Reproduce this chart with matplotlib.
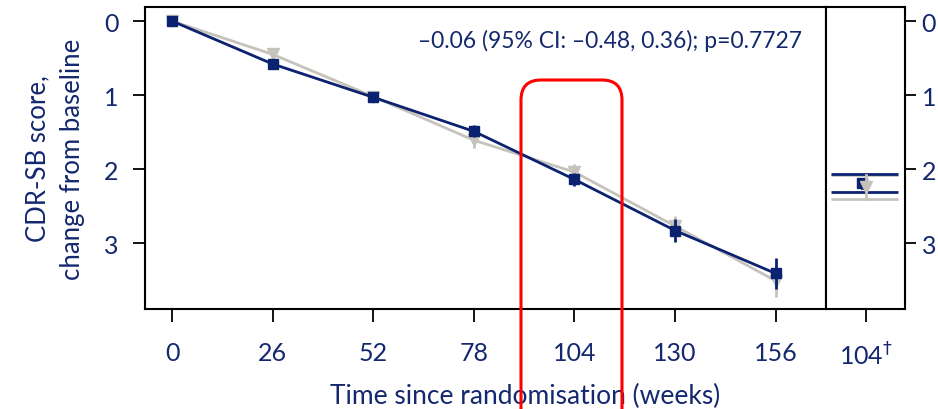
import numpy as np
import matplotlib
matplotlib.use('Agg')
import matplotlib.pyplot as plt
from matplotlib.patches import FancyBboxPatch

plt.rcParams['font.family'] = ['Lato', 'DejaVu Sans']

# data
weeks = [0, 26, 52, 78, 104, 130, 156]
navy_mean = [0.0, 0.58, 1.03, 1.49, 2.14, 2.83, 3.41]
navy_err = [0.0, 0.05, 0.06, 0.08, 0.09, 0.15, 0.21]
grey_mean = [0.0, 0.45, 1.02, 1.61, 2.04, 2.77, 3.51]
grey_err = [0.0, 0.06, 0.07, 0.10, 0.11, 0.14, 0.22]

side_label = '104$^{\\dagger}$'
side_navy = 2.19
side_navy_ci = (2.06, 2.31)
side_grey = 2.24
side_grey_ci = (2.08, 2.40)

y_ticks = [0, 1, 2, 3]
annot = '\u20130.06 (95% CI: \u20130.48, 0.36); p=0.7727'

navy = '#0b2270'
grey = '#c6c3bd'
txt = '#13286e'

fig = plt.figure(figsize=(9.38, 4.10), dpi=100)
ax = fig.add_axes([145/938, 100/410, 681/938, 302/410])
ax2 = fig.add_axes([826/938, 100/410, 79/938, 302/410])

ax.errorbar(weeks, navy_mean, yerr=navy_err, color=navy, marker='s', ms=7,
            lw=2, elinewidth=2, capsize=0, zorder=3)
ax.errorbar(weeks, grey_mean, yerr=grey_err, color=grey, marker='v', ms=8,
            lw=2, elinewidth=2, capsize=0, zorder=2)

ax.set_xlim(-7, 169)
ax.set_ylim(3.89, -0.19)
ax.set_xticks(weeks)
ax.set_yticks(y_ticks)
ax.tick_params(axis='both', labelsize=18, labelcolor=txt, length=9, width=1.3, pad=10)
ax.tick_params(axis='x', pad=14)
for s in ax.spines.values():
    s.set_linewidth(1.5)
ax.set_ylabel('CDR-SB score,\nchange from baseline', fontsize=18.5, color=txt,
              labelpad=14, linespacing=1.45)
ax.text(0.965, 0.89, annot, transform=ax.transAxes, ha='right', va='center',
        fontsize=16.5, color=txt)

# x label spans both panels
fig.text(525/938, 14/410, 'Time since randomisation (weeks)', ha='center', va='center',
         fontsize=19, color=txt)

# side panel
ax2.set_xlim(0, 1)
ax2.set_ylim(3.89, -0.19)
ax2.hlines(side_grey_ci, 0.06, 0.91, color=grey, lw=2, zorder=2)
ax2.hlines(side_navy_ci, 0.06, 0.91, color=navy, lw=2, zorder=3)
ax2.plot([0.46, 0.46], [side_navy - 0.06, side_navy + 0.06], color=navy, lw=2, zorder=3)
ax2.plot([0.46], [side_navy], marker='s', ms=7, color=navy, zorder=3)
ax2.plot([0.5, 0.5], side_grey_ci, color=grey, lw=2, zorder=4)
ax2.plot([0.5], [side_grey], marker='v', ms=8, color=grey, zorder=4)
ax2.set_xticks([0.5])
ax2.set_xticklabels([side_label])
ax2.set_yticks(y_ticks)
ax2.yaxis.tick_right()
ax2.tick_params(axis='both', labelsize=18, labelcolor=txt, length=8, width=1.3, pad=4)
ax2.tick_params(axis='x', pad=14, length=9)
for s in ax2.spines.values():
    s.set_linewidth(1.5)

# red highlight box
box = FancyBboxPatch((5.21, -0.3), 1.01, 3.59,
                     boxstyle='round,pad=0,rounding_size=0.2',
                     transform=fig.dpi_scale_trans, fill=False,
                     ec='#ff0000', lw=2.2, clip_on=False, zorder=10)
fig.add_artist(box)

fig.savefig('out.png', dpi=100)
